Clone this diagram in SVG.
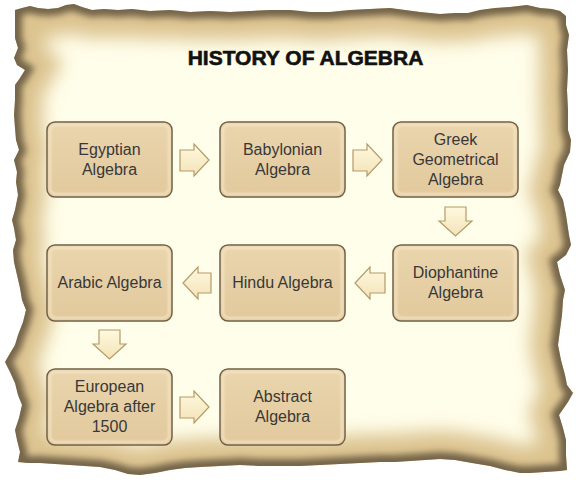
<svg xmlns="http://www.w3.org/2000/svg" xmlns:xlink="http://www.w3.org/1999/xlink" width="576" height="480" viewBox="0 0 576 480">
<defs>
<style>
.box{fill:url(#boxg);stroke:#6F5E44;stroke-width:1.5}
.bevel{fill:none;stroke:#F7EACD;stroke-width:2;opacity:.8}
.lbl{font-family:"Liberation Sans",Arial,sans-serif;font-size:16px;fill:#383838;text-anchor:middle}
.title{font-family:"Liberation Sans",Arial,sans-serif;font-size:21px;font-weight:bold;fill:#111;stroke:#111;stroke-width:0.6;text-anchor:middle}
.arr{fill:url(#arrg);stroke:#B49A68;stroke-width:1.2;stroke-linejoin:miter}
</style>
<linearGradient id="boxg" x1="0" y1="0" x2="0" y2="1">
<stop offset="0" stop-color="#EAD5AD"/>
<stop offset="1" stop-color="#E2C99D"/>
</linearGradient>
<linearGradient id="arrg" x1="0" y1="0" x2="0" y2="1">
<stop offset="0" stop-color="#FFF9DE"/>
<stop offset="1" stop-color="#F3E3B8"/>
</linearGradient>
<path id="edge" d="M15,10 L22,8 30,6 38,8 48,9 58,8 66,5 74,4 82,7 92,10 104,9 118,10 132,9 150,11 170,10 190,12 210,11 230,12 250,11 270,10 290,10 310,12 330,12 350,10 370,9 390,8 405,10 420,12 440,14 455,13 468,13 480,10 495,8 510,7 527,5 540,8 552,9 560,11 566,16 566,25 569,35 567,50 568,70 567,90 568,110 568,130 571,140 570,152 564,165 560,185 558,190 563,200 566,215 569,235 571,245 566,255 557,262 560,275 565,290 563,300 562,315 560,330 558,345 561,360 565,375 567,385 573,393 568,402 559,415 563,428 566,440 566,455 567,470 560,471 545,472 530,473 520,473 505,470 490,466 472,463 455,460 440,459 425,460 410,461 395,462 380,462 360,463 340,464 320,465 300,466 280,466 260,466 240,465 220,466 200,467 185,468 170,470 155,473 140,475 128,474 115,470 100,467 85,466 70,465 55,464 40,463 28,463 18,462 20,452 17,440 15,430 19,418 22,405 18,395 15,383 10,372 5,362 9,355 15,345 18,335 23,322 26,310 22,300 20,288 17,275 14,262 13,250 16,240 14,228 12,220 15,210 18,195 16,182 17,172 14,160 19,150 16,140 15,128 14,115 15,100 15,85 20,78 25,70 17,65 14,58 18,48 15,38 15,25 Z"/>
<clipPath id="clip"><use xlink:href="#edge"/></clipPath>
<filter id="b10" filterUnits="userSpaceOnUse" x="-60" y="-60" width="700" height="600"><feGaussianBlur stdDeviation="9"/></filter>
<filter id="b3" filterUnits="userSpaceOnUse" x="-60" y="-60" width="700" height="600"><feGaussianBlur stdDeviation="3"/></filter>
<filter id="b1" x="-10%" y="-10%" width="120%" height="120%"><feGaussianBlur stdDeviation="0.8"/></filter>
</defs>

<g id="parchment">
<g clip-path="url(#clip)">
<use xlink:href="#edge" fill="#FFFEEA"/>
<use xlink:href="#edge" fill="none" stroke="#DCC38F" stroke-width="56" filter="url(#b10)"/>
<use xlink:href="#edge" fill="none" stroke="#75654A" stroke-width="14" filter="url(#b3)"/>
</g>
</g>

<text id="title" class="title" x="305.5" y="65">HISTORY OF ALGEBRA</text>

<g id="connectors">
<path class="arr" d="M180,150 H194 V144 L209,160 L194,176 V171 H180 Z"/>
<path class="arr" d="M353,150 H367 V144 L382,160 L367,176 V171 H353 Z"/>
<path class="arr" d="M445,207 H466 V221 H472 L455.5,236 L439,221 H445 Z"/>
<path class="arr" d="M385,273 H370 V267 L355,283 L370,299 V293 H385 Z"/>
<path class="arr" d="M211,273 H198 V267 L183,283 L198,299 V293 H211 Z"/>
<path class="arr" d="M99,330 H120 V344 H126 L109.5,359 L93,344 H99 Z"/>
<path class="arr" d="M180,397 H194 V391 L209,407 L194,423 V418 H180 Z"/>
</g>

<g id="n1">
<rect class="box" x="47" y="122" width="125" height="75" rx="8"/>
<rect class="bevel" x="50" y="125" width="119" height="69" rx="6" filter="url(#b1)"/>
<text class="lbl" x="109.5" y="155">Egyptian</text>
<text class="lbl" x="109.5" y="175">Algebra</text>
</g>
<g id="n2">
<rect class="box" x="220" y="122" width="125" height="75" rx="8"/>
<rect class="bevel" x="223" y="125" width="119" height="69" rx="6" filter="url(#b1)"/>
<text class="lbl" x="282.5" y="155">Babylonian</text>
<text class="lbl" x="282.5" y="175">Algebra</text>
</g>
<g id="n3">
<rect class="box" x="393" y="122" width="125" height="75" rx="8"/>
<rect class="bevel" x="396" y="125" width="119" height="69" rx="6" filter="url(#b1)"/>
<text class="lbl" x="455.5" y="145">Greek</text>
<text class="lbl" x="455.5" y="165">Geometrical</text>
<text class="lbl" x="455.5" y="185">Algebra</text>
</g>
<g id="n4">
<rect class="box" x="393" y="245" width="125" height="76" rx="8"/>
<rect class="bevel" x="396" y="248" width="119" height="70" rx="6" filter="url(#b1)"/>
<text class="lbl" x="455.5" y="278">Diophantine</text>
<text class="lbl" x="455.5" y="298">Algebra</text>
</g>
<g id="n5">
<rect class="box" x="220" y="245" width="125" height="76" rx="8"/>
<rect class="bevel" x="223" y="248" width="119" height="70" rx="6" filter="url(#b1)"/>
<text class="lbl" x="282.5" y="288">Hindu Algebra</text>
</g>
<g id="n6">
<rect class="box" x="47" y="245" width="125" height="76" rx="8"/>
<rect class="bevel" x="50" y="248" width="119" height="70" rx="6" filter="url(#b1)"/>
<text class="lbl" x="109.5" y="288">Arabic Algebra</text>
</g>
<g id="n7">
<rect class="box" x="47" y="369" width="125" height="76" rx="8"/>
<rect class="bevel" x="50" y="372" width="119" height="70" rx="6" filter="url(#b1)"/>
<text class="lbl" x="109.5" y="392">European</text>
<text class="lbl" x="109.5" y="412">Algebra after</text>
<text class="lbl" x="109.5" y="432">1500</text>
</g>
<g id="n8">
<rect class="box" x="220" y="369" width="125" height="76" rx="8"/>
<rect class="bevel" x="223" y="372" width="119" height="70" rx="6" filter="url(#b1)"/>
<text class="lbl" x="282.5" y="402">Abstract</text>
<text class="lbl" x="282.5" y="422">Algebra</text>
</g>
</svg>
